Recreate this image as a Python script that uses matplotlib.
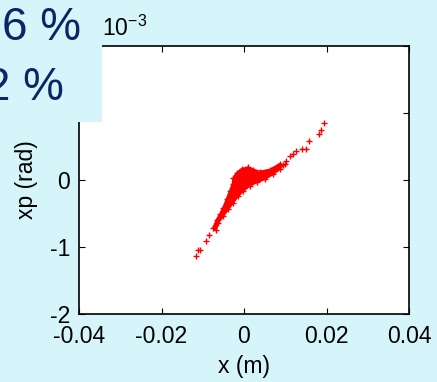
import matplotlib
matplotlib.use("Agg")
import matplotlib.pyplot as plt
from matplotlib.patches import Rectangle
import numpy as np

plt.rcParams['font.family'] = ['Liberation Sans', 'DejaVu Sans']

# isolated particles (x in m, xp in 1e-3 rad)
x_pts = [0.01947, 0.0186, 0.0181, 0.01583, 0.01399, 0.01496, 0.0126,
         0.0119, 0.01115, 0.0102, 0.00994,
         -0.0084, -0.00929, -0.01107, -0.01067, -0.01172]
xp_pts = [0.857, 0.752, 0.692, 0.576, 0.46, 0.46, 0.43,
          0.39, 0.356, 0.29, 0.24,
          -0.822, -0.912, -1.048, -1.048, -1.138]

# outline of the dense core of the beam
core_x = [0.00873, 0.00630, 0.00388, 0.00226, 0.00105, -0.00057, -0.00178,
          -0.00259, -0.00275, -0.00339, -0.0042, -0.00501, -0.00582, -0.00663,
          -0.00744, -0.00679, -0.00622, -0.00501, -0.0038, -0.00259, -0.00137,
          -0.00016, 0.00145, 0.00307, 0.00509, 0.00711, 0.00873, 0.00937]
core_xp = [0.241, 0.155, 0.125, 0.155, 0.19, 0.165, 0.105,
           0.025, -0.06, -0.16, -0.286, -0.411, -0.511, -0.597,
           -0.712, -0.747, -0.637, -0.536, -0.436, -0.336, -0.236,
           -0.16, -0.085, -0.035, 0.015, 0.09, 0.165, 0.226]

x_ticks = [-0.04, -0.02, 0, 0.02, 0.04]
x_labels = ['-0.04', '-0.02', '0', '0.02', '0.04']
y_ticks = [-2, -1, 0, 1, 2]
y_labels = ['-2', '-1', '0', '1', '2']

bg = '#d6f5fa'
W, H = 437, 382
fig = plt.figure(figsize=(W / 100, H / 100), dpi=100, facecolor=bg)
ax = fig.add_axes([79 / W, (H - 314) / H, 330 / W, 268 / H])
ax.set_facecolor('white')

ax.fill(core_x, core_xp, color='red', lw=1.5, zorder=2)
ax.plot(core_x, core_xp, '+', color='red', ms=4, mew=1, zorder=3)
ax.plot(x_pts, xp_pts, '+', color='red', ms=4, mew=1, zorder=3)

ax.set_xlim(-0.04, 0.04)
ax.set_ylim(-2, 2)
ax.set_xticks(x_ticks)
ax.set_xticklabels(x_labels)
ax.set_yticks(y_ticks)
ax.set_yticklabels(y_labels)
ax.tick_params(direction='in', length=4, width=0.8, top=True, right=True,
               labelsize=16.5)
ax.tick_params(axis='x', pad=8)
ax.tick_params(axis='y', pad=6.5)
for s in ax.spines.values():
    s.set_linewidth(1.2)
ax.set_xlabel('x (m)', fontsize=16.5, labelpad=5)
ax.set_ylabel('xp (rad)', fontsize=16.5, labelpad=8)

fig.text(102 / W, 1 - 36 / H, r'10$^{\mathregular{-3}}$', fontsize=16.5,
         ha='left', va='baseline')

# slide overlay box covering the upper left corner
fig.patches.append(Rectangle((0, 1 - 122 / H), 102 / W, 122 / H,
                             transform=fig.transFigure, facecolor=bg,
                             edgecolor='none', zorder=5))
fig.text(81 / W, 1 - 40 / H, '6 %', fontsize=33, color='#0b2566',
         ha='right', va='baseline', zorder=6)
fig.text(64 / W, 1 - 100 / H, '2 %', fontsize=33, color='#0b2566',
         ha='right', va='baseline', zorder=6)

fig.savefig('out.png', dpi=100, facecolor=bg)
